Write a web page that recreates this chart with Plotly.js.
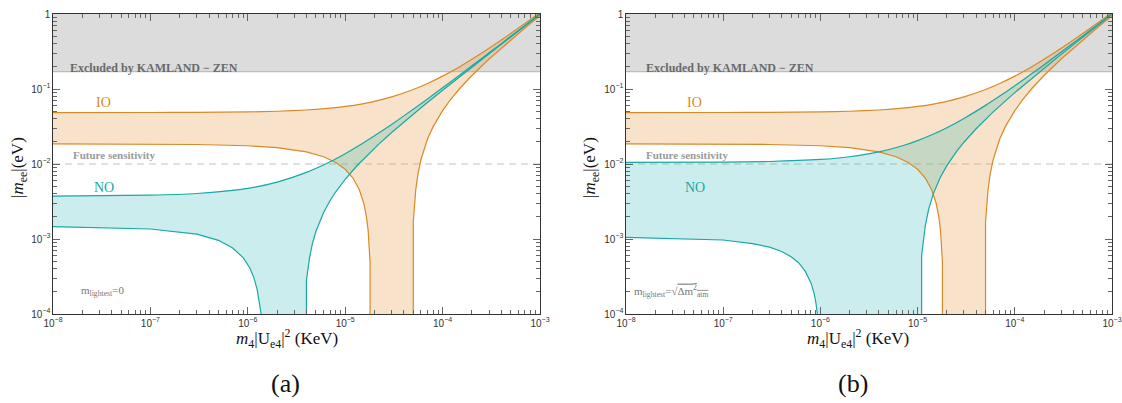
<!DOCTYPE html>
<html>
<head>
<meta charset="utf-8">
<script src="https://cdn.plot.ly/plotly-3.0.1.min.js"></script>
<style>html,body{margin:0;padding:0;background:#fff;}#chart{width:1122px;height:403px;}</style>
</head>
<body>
<div id="chart"></div>
<script>
// ---------- data ----------
// x: m4|Ue4|^2 (KeV), y: |m_ee| (eV); 0 means the band reaches zero (below the axis)
const X_UP = [1e-8, 1e-7, 3e-7, 1e-6, 2e-6, 4e-6, 7e-6, 1e-5, 1.5e-5, 2e-5, 3e-5, 5e-5, 7e-5, 1e-4, 1.5e-4, 2e-4, 3e-4, 5e-4, 7e-4, 1e-3];
const IO_UP = [0.0485, 0.0486, 0.0488, 0.0495, 0.0505, 0.0525, 0.0555, 0.0585, 0.0635, 0.0685, 0.0785, 0.0985, 0.1185, 0.1485, 0.1985, 0.2485, 0.3485, 0.5485, 0.7485, 1.0485];
const NO_A_UP = [0.00374, 0.00384, 0.00404, 0.00474, 0.00574, 0.00774, 0.01074, 0.01374, 0.01874, 0.02374, 0.03374, 0.05374, 0.07374, 0.1037, 0.1537, 0.2037, 0.3037, 0.5037, 0.7037, 1.0037];
const NO_B_UP = [0.0105, 0.0106, 0.0108, 0.0115, 0.0125, 0.0145, 0.0175, 0.0205, 0.0255, 0.0305, 0.0405, 0.0605, 0.0805, 0.1105, 0.1605, 0.2105, 0.3105, 0.5105, 0.7105, 1.0105];

const IO_LO_X = [1e-8, 1e-7, 3e-7, 1e-6, 2e-6, 4e-6, 6e-6, 8e-6, 1e-5, 1.2e-5, 1.4e-5, 1.55e-5, 1.65e-5, 1.72e-5, 1.77e-5, 1.8e-5, 1.8e-5, 5.0e-5, 5.0e-5, 5.3e-5, 5.6e-5, 6e-5, 7e-5, 8e-5, 1e-4, 1.2e-4, 1.5e-4, 2e-4, 3e-4, 5e-4, 7e-4, 1e-3];
const IO_LO_Y = [0.0185, 0.0184, 0.0182, 0.0175, 0.0165, 0.0145, 0.0125, 0.0105, 0.0085, 0.0065, 0.0045, 0.003, 0.002, 0.0013, 0.0008, 0.0005, 0, 0, 0.0017, 0.0045, 0.0075, 0.0115, 0.0215, 0.0315, 0.0515, 0.0715, 0.1015, 0.1515, 0.2515, 0.4515, 0.6515, 0.9515];

const NO_A_LO_X = [1e-8, 1e-7, 3e-7, 5e-7, 7e-7, 9e-7, 1.05e-6, 1.15e-6, 1.25e-6, 1.32e-6, 1.37e-6, 1.37e-6, 4.0e-6, 4.0e-6, 4.3e-6, 4.6e-6, 5e-6, 6e-6, 7e-6, 8e-6, 1e-5, 1.3e-5, 1.7e-5, 2.2e-5, 3e-5, 4e-5, 6e-5, 1e-4, 1.5e-4, 2e-4, 3e-4, 5e-4, 7e-4, 1e-3];
const NO_A_LO_Y = [0.00146, 0.00136, 0.00116, 0.00096, 0.00076, 0.00056, 0.00041, 0.00031, 0.00021, 0.00014, 0.0001, 0, 0, 0.00028, 0.00056, 0.00086, 0.00126, 0.00226, 0.00326, 0.00426, 0.00626, 0.00926, 0.0133, 0.0183, 0.0263, 0.0363, 0.0563, 0.0963, 0.146, 0.196, 0.296, 0.496, 0.696, 0.996];

const NO_B_LO_X = [1e-8, 1e-7, 2e-7, 3e-7, 4e-7, 5e-7, 6e-7, 7e-7, 8e-7, 8.6e-7, 9e-7, 9.3e-7, 9.3e-7, 1.1e-5, 1.1e-5, 1.15e-5, 1.2e-5, 1.3e-5, 1.45e-5, 1.7e-5, 2e-5, 2.5e-5, 3e-5, 4e-5, 6e-5, 1e-4, 1.5e-4, 2e-4, 3e-4, 5e-4, 7e-4, 1e-3];
const NO_B_LO_Y = [0.00105, 0.00097, 0.00087, 0.00078, 0.00068, 0.00058, 0.00048, 0.00037, 0.00026, 0.00019, 0.00014, 0.0001, 0, 0, 0.0006, 0.001, 0.0015, 0.0025, 0.004, 0.0065, 0.0095, 0.0145, 0.0195, 0.0295, 0.0495, 0.0895, 0.1395, 0.1895, 0.2895, 0.4895, 0.6895, 0.9895];

const X_RANGE = [1e-8, 1e-3];
const KAMLAND_LIMIT = 0.17;
const FUTURE_SENS = 0.01;
const Y_TOP = 1;

// ---------- styles ----------
const ORANGE = '#D98A26', TEAL = '#18A8A6';
const ORANGE_FILL = 'rgba(232,160,80,0.30)', TEAL_FILL = 'rgba(40,180,178,0.24)';
const FLOOR = 1e-7; // stands in for zero on the log axis (off-chart)
const fy = a => a.map(v => v > 0 ? v : FLOOR);

function band(xUp, yUp, xLo, yLo, fill, xa, ya) {
  const xs = xUp.concat(xLo.slice().reverse());
  const ys = yUp.concat(fy(yLo).slice().reverse());
  return {x: xs, y: ys, xaxis: xa, yaxis: ya, mode: 'none', fill: 'toself', fillcolor: fill, hoverinfo: 'skip', type: 'scatter'};
}
function line(x, y, color, xa, ya, smooth) {
  return {x: x, y: fy(y), xaxis: xa, yaxis: ya, mode: 'lines', type: 'scatter', hoverinfo: 'skip',
          line: {color: color, width: 1.2, shape: smooth ? 'spline' : 'linear', smoothing: 0.6}};
}
function panelTraces(xa, ya, noUp, noLoX, noLoY) {
  return [
    {x: [X_RANGE[0], X_RANGE[1], X_RANGE[1], X_RANGE[0]], y: [KAMLAND_LIMIT, KAMLAND_LIMIT, Y_TOP, Y_TOP],
     xaxis: xa, yaxis: ya, mode: 'none', fill: 'toself', fillcolor: '#dcdcdc', hoverinfo: 'skip', type: 'scatter'},
    {x: X_RANGE, y: [KAMLAND_LIMIT, KAMLAND_LIMIT], xaxis: xa, yaxis: ya, mode: 'lines', type: 'scatter',
     line: {color: '#bdbdbd', width: 1.2}, hoverinfo: 'skip'},
    {x: X_RANGE, y: [FUTURE_SENS, FUTURE_SENS], xaxis: xa, yaxis: ya, mode: 'lines', type: 'scatter',
     line: {color: '#c4c4c4', width: 1.2, dash: '7px,5px'}, hoverinfo: 'skip'},
    band(X_UP, IO_UP, IO_LO_X, IO_LO_Y, ORANGE_FILL, xa, ya),
    band(X_UP, noUp, noLoX, noLoY, TEAL_FILL, xa, ya),
    line(X_UP, IO_UP, ORANGE, xa, ya, true),
    line(IO_LO_X, IO_LO_Y, ORANGE, xa, ya, false),
    line(X_UP, noUp, TEAL, xa, ya, true),
    line(noLoX, noLoY, TEAL, xa, ya, false)
  ];
}

const data = panelTraces('x', 'y', NO_A_UP, NO_A_LO_X, NO_A_LO_Y)
  .concat(panelTraces('x2', 'y2', NO_B_UP, NO_B_LO_X, NO_B_LO_Y));

const W = 1122, T = 14, B = 314;
const PX = p => p / W;
const PY = p => (B - p) / (B - T);

const tickFont = {family: '"Liberation Sans", Arial, sans-serif', size: 8, color: '#333'};
function xAx(dom, anchor) {
  return {type: 'log', range: [-8, -3], domain: dom, anchor: anchor, showline: true, linecolor: '#333', linewidth: 1,
    mirror: 'allticks', ticks: 'inside', ticklen: 7, tickcolor: '#666', tickwidth: 1, dtick: 1,
    exponentformat: 'power', tickfont: tickFont, showgrid: false, zeroline: false, fixedrange: true,
    minor: {ticks: 'inside', ticklen: 4, tickcolor: '#666', dtick: 'D1', showgrid: false}};
}
function yAx(anchor) {
  return {type: 'log', range: [-4, 0], domain: [0, 1], anchor: anchor, showline: true, linecolor: '#333', linewidth: 1,
    mirror: 'allticks', ticks: 'inside', ticklen: 7, tickcolor: '#666', tickwidth: 1, dtick: 1,
    exponentformat: 'power', tickfont: tickFont, showgrid: false, zeroline: false, fixedrange: true,
    minor: {ticks: 'inside', ticklen: 4, tickcolor: '#666', dtick: 'D1', showgrid: false}};
}

const serif = '"Liberation Serif", "DejaVu Serif", serif';
function ann(text, x, y, opts) {
  return Object.assign({text: text, x: PX(x), y: PY(y), xref: 'paper', yref: 'paper', showarrow: false,
    xanchor: 'left', yanchor: 'middle', font: {family: serif, size: 11, color: '#666'}}, opts || {});
}
function panelAnns(x0, lightestText, lightestX) {
  const d = x0 - 53;
  return [
    ann('<b>Excluded by KAMLAND − ZEN</b>', 68 + d + (d ? 3 : 0), 68, {font: {family: serif, size: 12, color: '#6a6a6a'}}),
    ann('IO', 94 + d + (d ? 18 : 0), 103, {font: {family: serif, size: 14, color: ORANGE}}),
    ann('<b>Future sensitivity</b>', 71 + d, 155, {font: {family: serif, size: 11, color: '#9a9a9a'}}),
    ann('NO', 92 + d + (d ? 18 : 0), 187, {font: {family: serif, size: 14, color: TEAL}}),
    ann(lightestText, lightestX, 291, {font: {family: serif, size: 11, color: '#777'}})
  ];
}

const annotations = []
  .concat(panelAnns(53, 'm<sub>lightest</sub>=0', 79))
  .concat(panelAnns(626, 'm<sub>lightest</sub>=√<span style="text-decoration:overline">Δm<sup>2</sup><sub>atm</sub></span>', 632))
  .concat([
    ann('<i>m</i><sub>4</sub>|U<sub>e4</sub>|<sup>2</sup> (KeV)', 287, 338, {xanchor: 'center', font: {family: serif, size: 17, color: '#111'}}),
    ann('<i>m</i><sub>4</sub>|U<sub>e4</sub>|<sup>2</sup> (KeV)', 858, 338, {xanchor: 'center', font: {family: serif, size: 17, color: '#111'}}),
    ann('|<i>m</i><sub>ee</sub>|(eV)', 19, 168, {xanchor: 'center', textangle: -90, font: {family: serif, size: 17, color: '#111'}}),
    ann('|<i>m</i><sub>ee</sub>|(eV)', 591, 168, {xanchor: 'center', textangle: -90, font: {family: serif, size: 17, color: '#111'}}),
    ann('(a)', 285, 383, {xanchor: 'center', font: {family: serif, size: 26, color: '#111'}}),
    ann('(b)', 853, 383, {xanchor: 'center', font: {family: serif, size: 26, color: '#111'}})
  ]);

const layout = {
  width: 1122, height: 403, margin: {l: 0, r: 0, t: T, b: 403 - B}, showlegend: false,
  paper_bgcolor: '#fff', plot_bgcolor: '#fff',
  xaxis: xAx([53 / W, 540 / W], 'y'), yaxis: yAx('x'),
  xaxis2: xAx([626 / W, 1112 / W], 'y2'), yaxis2: yAx('x2'),
  annotations: annotations
};

Plotly.newPlot('chart', data, layout, {displayModeBar: false, staticPlot: true});
</script>
</body>
</html>
